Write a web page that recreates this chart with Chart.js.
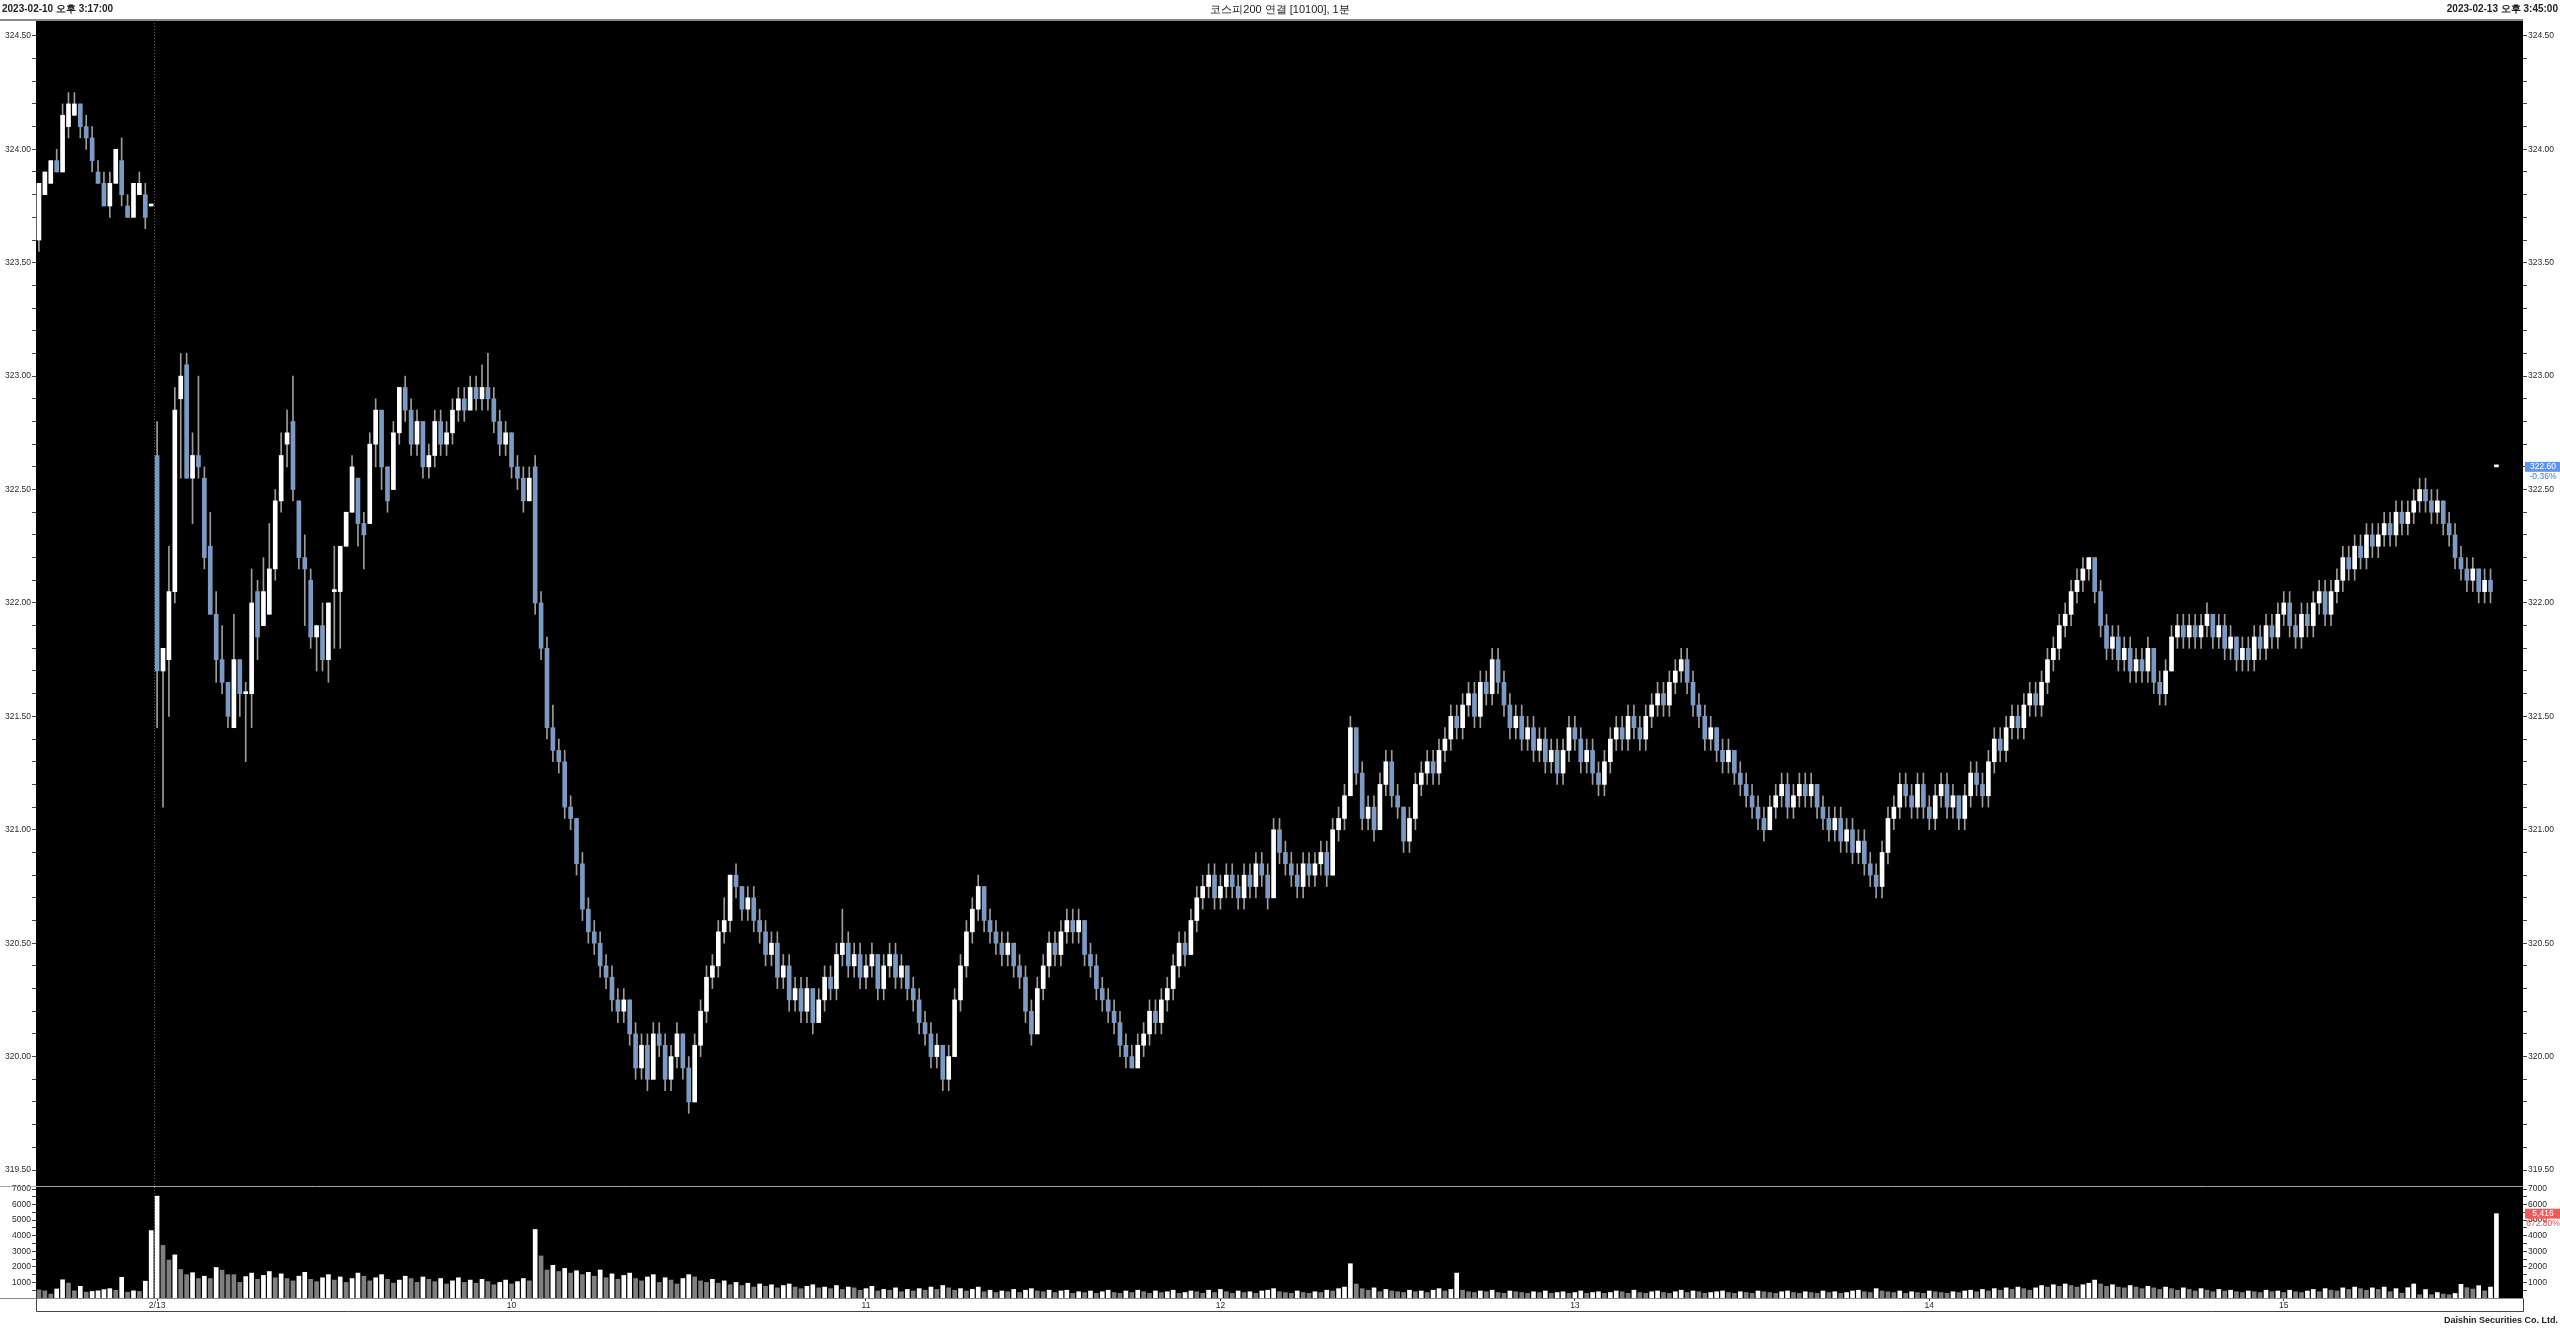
<!DOCTYPE html>
<html>
<head>
<meta charset="utf-8">
<title>코스피200 연결 1분</title>
<script src="https://cdn.jsdelivr.net/npm/chart.js@4.4.1/dist/chart.umd.min.js"></script>
<style>
  html, body { margin: 0; padding: 0; background: #fff; width: 2560px; height: 1328px; overflow: hidden; }
  body { font-family: "Liberation Sans", Arial, sans-serif; position: relative; }
  #c { position: absolute; left: 0; top: 0; }
  .hdr { position: absolute; top: 3px; font-size: 10px; line-height: 12px; font-weight: bold; color: #222; white-space: nowrap; z-index: 2; }
  .foot { position: absolute; right: 2px; top: 1315px; font-size: 9px; line-height: 11px; font-weight: bold; color: #222; z-index: 2; }
</style>
</head>
<body>
<div class="hdr" style="left:2px">2023-02-10 오후 3:17:00</div>
<div class="hdr" style="left:0;width:2560px;text-align:center;font-weight:normal;font-size:11px">코스피200 연결 [10100], 1분</div>
<div class="hdr" style="right:2px">2023-02-13 오후 3:45:00</div>
<div class="foot">Daishin Securities Co. Ltd.</div>
<canvas id="c" width="2560" height="1328"></canvas>
<script>
// ---- data: 1-minute bars, 2/10 15:17..15:35 + 15:45 close, 2/13 09:00..15:35 + 15:45 close
const opens = [
  323.60,323.80,323.85,323.95,323.90,324.10,324.15,324.20,324.10,324.05,
  323.90,323.85,323.75,323.85,323.95,323.75,323.70,323.80,323.80,323.75,
  322.65,321.70,321.75,322.05,322.90,323.05,322.55,322.65,322.55,322.25,
  321.95,321.75,321.65,321.45,321.75,321.60,321.60,322.05,321.90,321.95,
  322.15,322.45,322.70,322.80,322.45,322.20,322.10,321.85,321.90,321.75,
  322.05,322.05,322.25,322.40,322.55,322.35,322.35,322.70,322.85,322.60,
  322.50,
  322.75,322.95,322.85,322.70,322.80,322.60,322.65,322.80,322.70,322.75,
  322.85,322.90,322.85,322.95,322.90,322.95,322.90,322.80,322.70,322.75,
  322.60,322.55,322.45,322.60,322.00,321.80,321.45,321.35,321.30,321.10,
  321.05,320.85,320.65,320.55,320.50,320.40,320.35,320.25,320.20,320.25,
  320.10,319.95,320.05,319.90,320.10,320.05,319.90,320.00,320.10,319.95,
  319.80,320.05,320.20,320.35,320.40,320.55,320.60,320.80,320.75,320.65,
  320.70,320.60,320.55,320.45,320.50,320.35,320.40,320.25,320.30,320.20,
  320.30,320.15,320.25,320.35,320.30,320.45,320.50,320.40,320.45,320.35,
  320.40,320.45,320.30,320.40,320.45,320.35,320.40,320.30,320.25,320.15,
  320.10,320.00,320.05,319.90,320.00,320.25,320.40,320.55,320.65,320.75,
  320.60,320.55,320.50,320.45,320.50,320.40,320.35,320.20,320.10,320.30,
  320.40,320.50,320.45,320.55,320.60,320.55,320.60,320.45,320.40,320.30,
  320.25,320.20,320.15,320.05,320.00,319.95,320.05,320.10,320.20,320.15,
  320.25,320.30,320.40,320.50,320.45,320.60,320.70,320.75,320.80,320.70,
  320.75,320.80,320.75,320.70,320.80,320.75,320.85,320.80,320.70,321.00,
  320.90,320.85,320.80,320.75,320.85,320.80,320.85,320.90,320.80,321.00,
  321.05,321.15,321.45,321.25,321.05,321.10,321.00,321.20,321.30,321.15,
  321.10,320.95,321.05,321.20,321.25,321.30,321.25,321.35,321.40,321.50,
  321.45,321.55,321.60,321.50,321.65,321.60,321.75,321.65,321.55,321.45,
  321.50,321.40,321.45,321.35,321.40,321.30,321.35,321.25,321.35,321.45,
  321.40,321.30,321.35,321.25,321.20,321.30,321.40,321.45,321.40,321.50,
  321.45,321.40,321.50,321.55,321.60,321.55,321.65,321.70,321.75,321.65,
  321.55,321.50,321.40,321.45,321.35,321.30,321.35,321.25,321.20,321.15,
  321.10,321.05,321.00,321.10,321.15,321.20,321.10,321.15,321.20,321.15,
  321.20,321.10,321.05,321.00,321.05,320.95,321.00,320.90,320.95,320.85,
  320.80,320.75,320.90,321.05,321.10,321.20,321.15,321.10,321.20,321.10,
  321.05,321.15,321.20,321.10,321.15,321.05,321.15,321.25,321.20,321.15,
  321.30,321.40,321.35,321.45,321.50,321.45,321.55,321.60,321.55,321.65,
  321.75,321.80,321.90,321.95,322.05,322.10,322.15,322.20,322.05,321.90,
  321.80,321.85,321.75,321.80,321.70,321.75,321.70,321.80,321.65,321.60,
  321.70,321.85,321.90,321.85,321.90,321.85,321.90,321.95,321.85,321.90,
  321.80,321.85,321.75,321.80,321.75,321.85,321.80,321.90,321.85,321.95,
  322.00,321.90,321.85,321.95,321.90,322.00,322.05,321.95,322.05,322.10,
  322.20,322.15,322.25,322.20,322.30,322.25,322.30,322.35,322.30,322.40,
  322.35,322.40,322.45,322.50,322.45,322.40,322.45,322.35,322.30,322.20,
  322.15,322.10,322.15,322.05,322.10,322.60
];
const highs = [
  323.85,323.90,323.95,324.00,324.20,324.25,324.25,324.20,324.15,324.10,
  323.95,323.90,323.90,324.00,324.05,323.80,323.85,323.90,323.85,323.75,
  322.80,321.80,322.25,322.95,323.10,323.10,322.75,323.00,322.60,322.40,
  322.05,321.90,321.65,321.95,321.75,321.65,322.15,322.10,322.20,322.35,
  322.50,322.75,322.85,323.00,322.45,322.30,322.15,321.90,322.00,322.00,
  322.25,322.25,322.40,322.65,322.55,322.40,322.75,322.90,322.85,322.60,
  322.80,
  322.95,323.00,322.90,322.85,322.80,322.70,322.85,322.85,322.80,322.90,
  322.95,322.95,323.00,323.00,323.05,323.10,322.95,322.85,322.80,322.75,
  322.65,322.60,322.60,322.65,322.05,321.85,321.55,321.40,321.35,321.15,
  321.05,320.90,320.70,320.60,320.55,320.45,320.40,320.30,320.30,320.25,
  320.15,320.10,320.10,320.15,320.15,320.10,320.05,320.15,320.10,320.00,
  320.10,320.25,320.40,320.45,320.60,320.70,320.80,320.85,320.75,320.75,
  320.75,320.65,320.60,320.55,320.55,320.45,320.45,320.35,320.35,320.35,
  320.30,320.30,320.40,320.40,320.50,320.65,320.55,320.50,320.50,320.45,
  320.50,320.45,320.45,320.50,320.50,320.45,320.40,320.35,320.30,320.20,
  320.15,320.10,320.05,320.05,320.30,320.45,320.60,320.70,320.80,320.75,
  320.65,320.60,320.55,320.55,320.50,320.45,320.40,320.25,320.35,320.45,
  320.55,320.55,320.60,320.65,320.65,320.65,320.60,320.50,320.45,320.35,
  320.30,320.25,320.20,320.10,320.05,320.10,320.15,320.25,320.25,320.30,
  320.35,320.45,320.55,320.55,320.65,320.75,320.80,320.85,320.85,320.80,
  320.85,320.85,320.80,320.85,320.85,320.90,320.90,320.85,321.05,321.05,
  320.95,320.90,320.85,320.90,320.90,320.90,320.95,320.95,321.05,321.10,
  321.20,321.50,321.45,321.30,321.15,321.15,321.25,321.35,321.35,321.20,
  321.10,321.10,321.25,321.30,321.35,321.35,321.40,321.45,321.55,321.55,
  321.60,321.65,321.65,321.70,321.70,321.80,321.80,321.70,321.60,321.55,
  321.55,321.50,321.50,321.45,321.45,321.40,321.40,321.40,321.50,321.50,
  321.45,321.40,321.40,321.30,321.35,321.45,321.50,321.50,321.55,321.55,
  321.50,321.55,321.60,321.65,321.65,321.70,321.75,321.80,321.80,321.70,
  321.60,321.55,321.50,321.45,321.40,321.40,321.35,321.30,321.25,321.20,
  321.15,321.10,321.15,321.20,321.25,321.25,321.20,321.25,321.25,321.25,
  321.20,321.15,321.10,321.10,321.10,321.05,321.05,321.00,321.00,320.90,
  320.85,320.95,321.10,321.15,321.25,321.25,321.20,321.25,321.25,321.15,
  321.20,321.25,321.25,321.20,321.15,321.20,321.30,321.30,321.25,321.35,
  321.45,321.45,321.50,321.55,321.55,321.60,321.65,321.65,321.70,321.80,
  321.85,321.95,322.00,322.10,322.15,322.20,322.20,322.20,322.10,321.95,
  321.90,321.90,321.85,321.85,321.80,321.80,321.85,321.80,321.70,321.75,
  321.90,321.95,321.95,321.95,321.95,321.95,322.00,321.95,321.95,321.95,
  321.90,321.85,321.85,321.85,321.90,321.90,321.95,321.95,322.00,322.05,
  322.05,321.95,322.00,322.00,322.05,322.10,322.10,322.10,322.15,322.25,
  322.25,322.30,322.30,322.35,322.35,322.35,322.40,322.40,322.45,322.45,
  322.45,322.50,322.55,322.55,322.50,322.50,322.45,322.40,322.35,322.25,
  322.20,322.20,322.15,322.15,322.15,322.60
];
const lows = [
  323.55,323.80,323.85,323.90,323.90,324.05,324.15,324.05,324.00,323.90,
  323.85,323.75,323.70,323.85,323.75,323.70,323.70,323.80,323.65,323.75,
  321.45,321.10,321.50,322.00,322.55,322.55,322.35,322.55,322.15,321.95,
  321.65,321.60,321.45,321.45,321.50,321.30,321.45,321.75,321.90,321.95,
  322.10,322.40,322.60,322.45,322.15,321.90,321.80,321.70,321.70,321.65,
  321.80,321.80,322.25,322.40,322.25,322.15,322.35,322.60,322.50,322.40,
  322.50,
  322.70,322.80,322.65,322.65,322.55,322.55,322.60,322.65,322.65,322.70,
  322.80,322.80,322.85,322.85,322.85,322.85,322.75,322.65,322.65,322.55,
  322.50,322.40,322.45,321.95,321.75,321.40,321.30,321.25,321.05,321.00,
  320.80,320.60,320.50,320.45,320.35,320.30,320.20,320.15,320.15,320.05,
  319.90,319.90,319.85,319.90,320.00,319.85,319.85,319.95,319.90,319.75,
  319.80,320.00,320.15,320.30,320.35,320.50,320.55,320.70,320.60,320.60,
  320.55,320.50,320.40,320.40,320.30,320.30,320.20,320.20,320.15,320.15,
  320.10,320.15,320.20,320.25,320.25,320.40,320.35,320.35,320.30,320.30,
  320.35,320.25,320.25,320.35,320.30,320.30,320.25,320.20,320.10,320.05,
  319.95,319.95,319.85,319.85,320.00,320.20,320.35,320.50,320.60,320.55,
  320.50,320.45,320.40,320.40,320.35,320.30,320.15,320.05,320.10,320.25,
  320.35,320.40,320.40,320.50,320.50,320.50,320.40,320.35,320.25,320.20,
  320.15,320.10,320.00,319.95,319.95,319.95,320.00,320.05,320.10,320.10,
  320.20,320.25,320.35,320.40,320.45,320.55,320.65,320.70,320.65,320.65,
  320.70,320.70,320.65,320.65,320.70,320.70,320.75,320.65,320.70,320.85,
  320.80,320.75,320.70,320.70,320.75,320.75,320.80,320.75,320.80,320.95,
  321.00,321.15,321.20,321.00,321.00,320.95,321.00,321.15,321.10,321.05,
  320.90,320.90,321.00,321.15,321.20,321.20,321.20,321.30,321.35,321.40,
  321.40,321.50,321.45,321.45,321.55,321.55,321.60,321.50,321.40,321.40,
  321.35,321.35,321.30,321.30,321.25,321.25,321.20,321.20,321.30,321.35,
  321.25,321.25,321.20,321.15,321.15,321.25,321.35,321.35,321.35,321.40,
  321.35,321.35,321.45,321.50,321.50,321.50,321.60,321.65,321.60,321.50,
  321.45,321.35,321.35,321.30,321.25,321.25,321.20,321.15,321.10,321.05,
  321.00,320.95,321.00,321.05,321.10,321.05,321.05,321.10,321.10,321.10,
  321.05,321.00,320.95,320.95,320.90,320.90,320.85,320.85,320.80,320.75,
  320.70,320.70,320.85,321.00,321.05,321.10,321.05,321.05,321.05,321.00,
  321.00,321.10,321.05,321.05,321.00,321.00,321.10,321.15,321.10,321.10,
  321.25,321.30,321.30,321.40,321.40,321.40,321.50,321.50,321.50,321.60,
  321.70,321.75,321.85,321.90,322.00,322.05,322.10,322.00,321.85,321.75,
  321.75,321.70,321.70,321.65,321.65,321.65,321.65,321.60,321.55,321.55,
  321.70,321.80,321.80,321.80,321.80,321.80,321.85,321.80,321.80,321.75,
  321.75,321.70,321.70,321.70,321.70,321.75,321.75,321.80,321.80,321.90,
  321.85,321.80,321.80,321.85,321.85,321.95,321.90,321.90,322.00,322.05,
  322.10,322.10,322.15,322.15,322.20,322.20,322.25,322.25,322.25,322.30,
  322.30,322.35,322.40,322.40,322.35,322.35,322.30,322.25,322.15,322.10,
  322.05,322.05,322.00,322.00,322.00,322.60
];
const closes = [
  323.85,323.90,323.95,323.90,324.15,324.20,324.20,324.10,324.05,323.95,
  323.85,323.75,323.85,324.00,323.80,323.70,323.85,323.85,323.70,323.75,
  321.70,321.80,322.05,322.85,323.00,322.55,322.65,322.60,322.20,321.95,
  321.75,321.65,321.50,321.75,321.60,321.60,322.00,321.85,322.05,322.15,
  322.45,322.65,322.75,322.50,322.20,322.15,321.85,321.90,321.75,322.00,
  322.05,322.25,322.40,322.60,322.35,322.30,322.70,322.85,322.60,322.45,
  322.75,
  322.95,322.85,322.70,322.80,322.60,322.65,322.80,322.70,322.75,322.85,
  322.90,322.85,322.95,322.90,322.95,322.90,322.80,322.70,322.75,322.60,
  322.55,322.45,322.55,322.00,321.80,321.45,321.35,321.30,321.10,321.05,
  320.85,320.65,320.55,320.50,320.40,320.35,320.25,320.20,320.25,320.10,
  319.95,320.05,319.90,320.10,320.05,319.90,320.00,320.10,319.95,319.80,
  320.05,320.20,320.35,320.40,320.55,320.60,320.80,320.75,320.65,320.70,
  320.60,320.55,320.45,320.50,320.35,320.40,320.25,320.30,320.20,320.30,
  320.15,320.25,320.35,320.30,320.45,320.50,320.40,320.45,320.35,320.40,
  320.45,320.30,320.40,320.45,320.35,320.40,320.30,320.25,320.15,320.10,
  320.00,320.05,319.90,320.00,320.25,320.40,320.55,320.65,320.75,320.60,
  320.55,320.50,320.45,320.50,320.40,320.35,320.20,320.10,320.30,320.40,
  320.50,320.45,320.55,320.60,320.55,320.60,320.45,320.40,320.30,320.25,
  320.20,320.15,320.05,320.00,319.95,320.05,320.10,320.20,320.15,320.25,
  320.30,320.40,320.50,320.45,320.60,320.70,320.75,320.80,320.70,320.75,
  320.80,320.75,320.70,320.80,320.75,320.85,320.80,320.70,321.00,320.90,
  320.85,320.80,320.75,320.85,320.80,320.85,320.90,320.80,321.00,321.05,
  321.15,321.45,321.25,321.05,321.10,321.00,321.20,321.30,321.15,321.10,
  320.95,321.05,321.20,321.25,321.30,321.25,321.35,321.40,321.50,321.45,
  321.55,321.60,321.50,321.65,321.60,321.75,321.65,321.55,321.45,321.50,
  321.40,321.45,321.35,321.40,321.30,321.35,321.25,321.35,321.45,321.40,
  321.30,321.35,321.25,321.20,321.30,321.40,321.45,321.40,321.50,321.45,
  321.40,321.50,321.55,321.60,321.55,321.65,321.70,321.75,321.65,321.55,
  321.50,321.40,321.45,321.35,321.30,321.35,321.25,321.20,321.15,321.10,
  321.05,321.00,321.10,321.15,321.20,321.10,321.15,321.20,321.15,321.20,
  321.10,321.05,321.00,321.05,320.95,321.00,320.90,320.95,320.85,320.80,
  320.75,320.90,321.05,321.10,321.20,321.15,321.10,321.20,321.10,321.05,
  321.15,321.20,321.10,321.15,321.05,321.15,321.25,321.20,321.15,321.30,
  321.40,321.35,321.45,321.50,321.45,321.55,321.60,321.55,321.65,321.75,
  321.80,321.90,321.95,322.05,322.10,322.15,322.20,322.05,321.90,321.80,
  321.85,321.75,321.80,321.70,321.75,321.70,321.80,321.65,321.60,321.70,
  321.85,321.90,321.85,321.90,321.85,321.90,321.95,321.85,321.90,321.80,
  321.85,321.75,321.80,321.75,321.85,321.80,321.90,321.85,321.95,322.00,
  321.90,321.85,321.95,321.90,322.00,322.05,321.95,322.05,322.10,322.20,
  322.15,322.25,322.20,322.30,322.25,322.30,322.35,322.30,322.40,322.35,
  322.40,322.45,322.50,322.45,322.40,322.45,322.35,322.30,322.20,322.15,
  322.10,322.15,322.05,322.10,322.05,322.60
];
const volumes = [
  520,460,250,580,1170,960,460,750,375,420,
  460,540,600,500,1330,375,460,420,1080,4330,
  6540,3375,2440,2770,1830,1500,1625,1250,1400,1250,
  1960,1790,1500,1500,1000,1375,
  1600,1200,1450,1700,1300,1550,1250,1100,1400,1650,
  1200,1050,1300,1500,1150,1350,1000,1250,1600,1400,
  1100,1300,1500,1200,950,1150,1400,1250,1000,1350,
  1200,1050,1250,900,1100,1300,1000,1150,950,1200,
  1050,850,1000,1150,900,1050,1250,1100,
  4400,2700,1800,2100,1700,1900,1600,1750,1500,1650,
  1400,1800,1300,1550,1200,1450,1600,1250,1100,1350,
  1500,1000,1300,1150,900,1250,1500,1350,1100,1000,
  1200,950,1100,850,1000,800,950,700,900,750,
  850,650,800,900,700,600,750,850,650,700,
  600,800,550,700,650,500,600,750,450,550,
  500,650,400,550,450,600,500,700,550,800,
  650,500,600,450,550,700,400,500,350,450,
  400,550,350,500,600,450,400,500,350,450,
  500,300,400,350,450,300,400,500,350,300,
  450,350,500,400,300,450,350,400,500,300,
  350,450,400,300,500,350,550,400,300,450,
  350,400,300,450,500,600,400,350,300,450,
  350,300,400,350,500,450,600,700,2200,900,
  600,500,650,400,550,450,400,350,500,400,
  450,350,500,600,450,550,1600,500,400,350,
  450,400,500,350,300,450,400,350,300,400,
  350,450,300,350,400,300,350,450,300,350,
  400,300,350,450,400,300,500,350,300,400,
  450,350,300,400,500,350,450,400,300,350,
  400,450,350,300,400,350,300,450,400,350,
  300,400,450,350,300,400,350,300,450,350,
  400,300,350,450,500,400,350,600,450,400,
  350,450,300,400,350,300,450,400,350,300,
  400,350,450,500,400,550,450,600,500,650,
  550,700,600,500,650,800,700,850,750,900,
  800,700,850,950,1150,900,750,850,700,650,
  800,700,600,750,650,550,700,600,500,650,
  550,450,600,500,400,550,450,500,400,350,
  450,400,350,500,400,450,350,500,400,350,
  450,550,400,600,500,450,650,550,700,600,
  500,650,550,700,400,600,310,660,900,210,
  540,210,350,250,210,290,875,660,580,790,
  460,701,5416
];

// ---- categories (minute stamps) and axis tick labels
const pad = n => String(n).padStart(2, '0');
const times = [];
for (let m = 17; m <= 35; m++) times.push('2/10 15:' + pad(m));
times.push('2/10 15:45');
for (let t = 9 * 60; t <= 15 * 60 + 35; t++) times.push('2/13 ' + pad(Math.floor(t / 60)) + ':' + pad(t % 60));
times.push('2/13 15:45');
const blankSlots = ['', '', '', ''];

const hourTimes = ['2/13 09:00', '2/13 10:00', '2/13 11:00', '2/13 12:00', '2/13 13:00', '2/13 14:00', '2/13 15:00'];
const hourText  = ['2/13', '10', '11', '12', '13', '14', '15'];
const priceLabels = ['319.50', '320.00', '320.50', '321.00', '321.50', '322.00', '322.50', '323.00', '323.50', '324.00', '324.50'];
const volumeLabels = ['1000', '2000', '3000', '4000', '5000', '6000', '7000'];

const priceMinor = [];
for (let v = 3195; v <= 3245; v++) priceMinor.push(v / 10);
const volumeMinor = [];
for (let v = 500; v <= 7000; v += 500) volumeMinor.push(v);

const lastPrice = { value: 322.60, text: '322.60', change: '-0.36%' };
const lastVolume = { value: 5416, text: '5,416', change: '672.80%' };

// ---- colours
const UP = '#ffffff', DOWN = '#7b9ac4', WICK = '#9c9c9c';
const VOL_UP = '#ffffff', VOL_DOWN = '#7f7f7f';

const labels = times.concat(blankSlots);
const isUp = closes.map((c, i) => c >= opens[i]);
const bodyData = opens.map((o, i) => [o, closes[i]]);
const wickData = lows.map((l, i) => [l, highs[i]]);
const volColors = volumes.map((v, i) => (i > 0 && v > volumes[i - 1]) ? VOL_UP : VOL_DOWN);

const tickFont = { family: '"Liberation Sans", Arial, sans-serif', size: 8.5 };

function priceAxis(pos, width) {
  return {
    position: pos, stack: pos, stackWeight: 10.4,
    min: 319.43, max: 324.57,
    afterBuildTicks: s => { s.ticks = priceMinor.map(v => ({ value: v })); },
    afterFit: s => { s.width = width; },
    grid: { drawOnChartArea: false, drawTicks: true, tickLength: 4, color: '#444' },
    border: { display: false },
    ticks: {
      autoSkip: false, font: tickFont, color: '#2a2a2a', padding: 1,
      callback: v => { const s = Number(v).toFixed(2); return priceLabels.includes(s) ? s : ''; }
    }
  };
}
function volumeAxis(pos, width) {
  return {
    position: pos, stack: pos, stackWeight: 1,
    min: 0, max: 7200,
    afterBuildTicks: s => { s.ticks = volumeMinor.map(v => ({ value: v })); },
    afterFit: s => { s.width = width; },
    grid: { drawOnChartArea: false, drawTicks: true, tickLength: 4, color: '#444' },
    border: { display: false },
    ticks: {
      autoSkip: false, font: tickFont, color: '#2a2a2a', padding: 1,
      callback: v => { const s = String(v); return volumeLabels.includes(s) ? s : ''; }
    }
  };
}

const frame = {
  id: 'frame',
  beforeDatasetsDraw(chart) {
    const { ctx, chartArea: a, scales } = chart;
    ctx.save();
    ctx.fillStyle = '#000';
    ctx.fillRect(a.left, a.top, a.right - a.left, a.bottom - a.top);
    // day separator
    const x = Math.round((scales.x.getPixelForValue(19) + scales.x.getPixelForValue(20)) / 2) + 0.5;
    ctx.strokeStyle = '#5a5a5a';
    ctx.lineWidth = 1;
    ctx.setLineDash([1, 2]);
    ctx.beginPath(); ctx.moveTo(x, a.top); ctx.lineTo(x, a.bottom); ctx.stroke();
    ctx.restore();
  },
  afterDraw(chart) {
    const { ctx, chartArea: a, scales } = chart;
    ctx.save();
    // pane borders
    ctx.strokeStyle = '#8a8a8a';
    ctx.lineWidth = 2;
    ctx.beginPath(); ctx.moveTo(0, a.top); ctx.lineTo(a.right, a.top); ctx.stroke();
    ctx.lineWidth = 1;
    ctx.strokeStyle = '#a8a8a8';
    const sep = Math.round(scales.y.bottom) + 0.5;
    ctx.beginPath(); ctx.moveTo(0, sep); ctx.lineTo(a.right, sep); ctx.stroke();
    ctx.strokeStyle = '#8a8a8a';
    const base = Math.round(a.bottom) + 0.5;
    ctx.beginPath(); ctx.moveTo(0, base); ctx.lineTo(a.right, base); ctx.stroke();
    // x-axis box
    ctx.strokeStyle = '#444';
    const bx = Math.round(scales.x.bottom) + 0.5;
    ctx.beginPath();
    ctx.moveTo(a.left + 0.5, base); ctx.lineTo(a.left + 0.5, bx);
    ctx.lineTo(a.right + 0.5, bx); ctx.lineTo(a.right + 0.5, base);
    ctx.stroke();

    // last price tag
    ctx.font = '8.5px "Liberation Sans", Arial, sans-serif';
    ctx.textBaseline = 'middle';
    ctx.textAlign = 'center';
    const py = scales.y2.getPixelForValue(lastPrice.value);
    ctx.fillStyle = '#5d98ee';
    ctx.fillRect(a.right + 2, py - 5, 36, 10);
    ctx.fillStyle = '#fff';
    ctx.fillText(lastPrice.text, a.right + 20, py);
    ctx.fillStyle = '#3f78d6';
    ctx.fillText(lastPrice.change, a.right + 20, py + 10);
    // last volume tag
    const vy = scales.v2.getPixelForValue(lastVolume.value);
    ctx.fillStyle = '#ef5b5b';
    ctx.fillRect(a.right + 2, vy - 5, 36, 10);
    ctx.fillStyle = '#fff';
    ctx.fillText(lastVolume.text, a.right + 20, vy);
    ctx.fillStyle = '#e44848';
    ctx.fillText(lastVolume.change, a.right + 20, vy + 10);
    ctx.restore();
  }
};

new Chart(document.getElementById('c').getContext('2d'), {
  type: 'bar',
  data: {
    labels: labels,
    datasets: [
      {
        label: 'wick', data: wickData, yAxisID: 'y', grouped: false,
        barThickness: 1, backgroundColor: WICK, order: 2
      },
      {
        label: 'body', data: bodyData, yAxisID: 'y', grouped: false,
        barThickness: 4, minBarLength: 2, order: 1,
        backgroundColor: isUp.map(u => u ? UP : DOWN)
      },
      {
        label: 'volume', data: volumes, yAxisID: 'v', grouped: false,
        barThickness: 4, order: 1,
        backgroundColor: volColors
      }
    ]
  },
  options: {
    responsive: false,
    animation: false,
    devicePixelRatio: 1,
    layout: { padding: { top: 20, bottom: 17, left: 0, right: 0 } },
    plugins: { legend: { display: false }, tooltip: { enabled: false }, title: { display: false } },
    scales: {
      x: {
        type: 'category', offset: true,
        afterBuildTicks: s => { s.ticks = hourTimes.map(t => ({ value: labels.indexOf(t) })); },
        afterFit: s => { s.height = 13; },
        grid: { drawOnChartArea: false, drawTicks: true, tickLength: 3, offset: false, color: '#444' },
        border: { display: false },
        ticks: {
          autoSkip: false, maxRotation: 0, font: tickFont, color: '#2a2a2a', padding: 0,
          callback: function (v) { const k = hourTimes.indexOf(labels[v]); return k >= 0 ? hourText[k] : ''; }
        }
      },
      v: volumeAxis('left', 36),
      y: priceAxis('left', 36),
      y2: priceAxis('right', 37),
      v2: volumeAxis('right', 37)
    }
  },
  plugins: [frame]
});
</script>
</body>
</html>
